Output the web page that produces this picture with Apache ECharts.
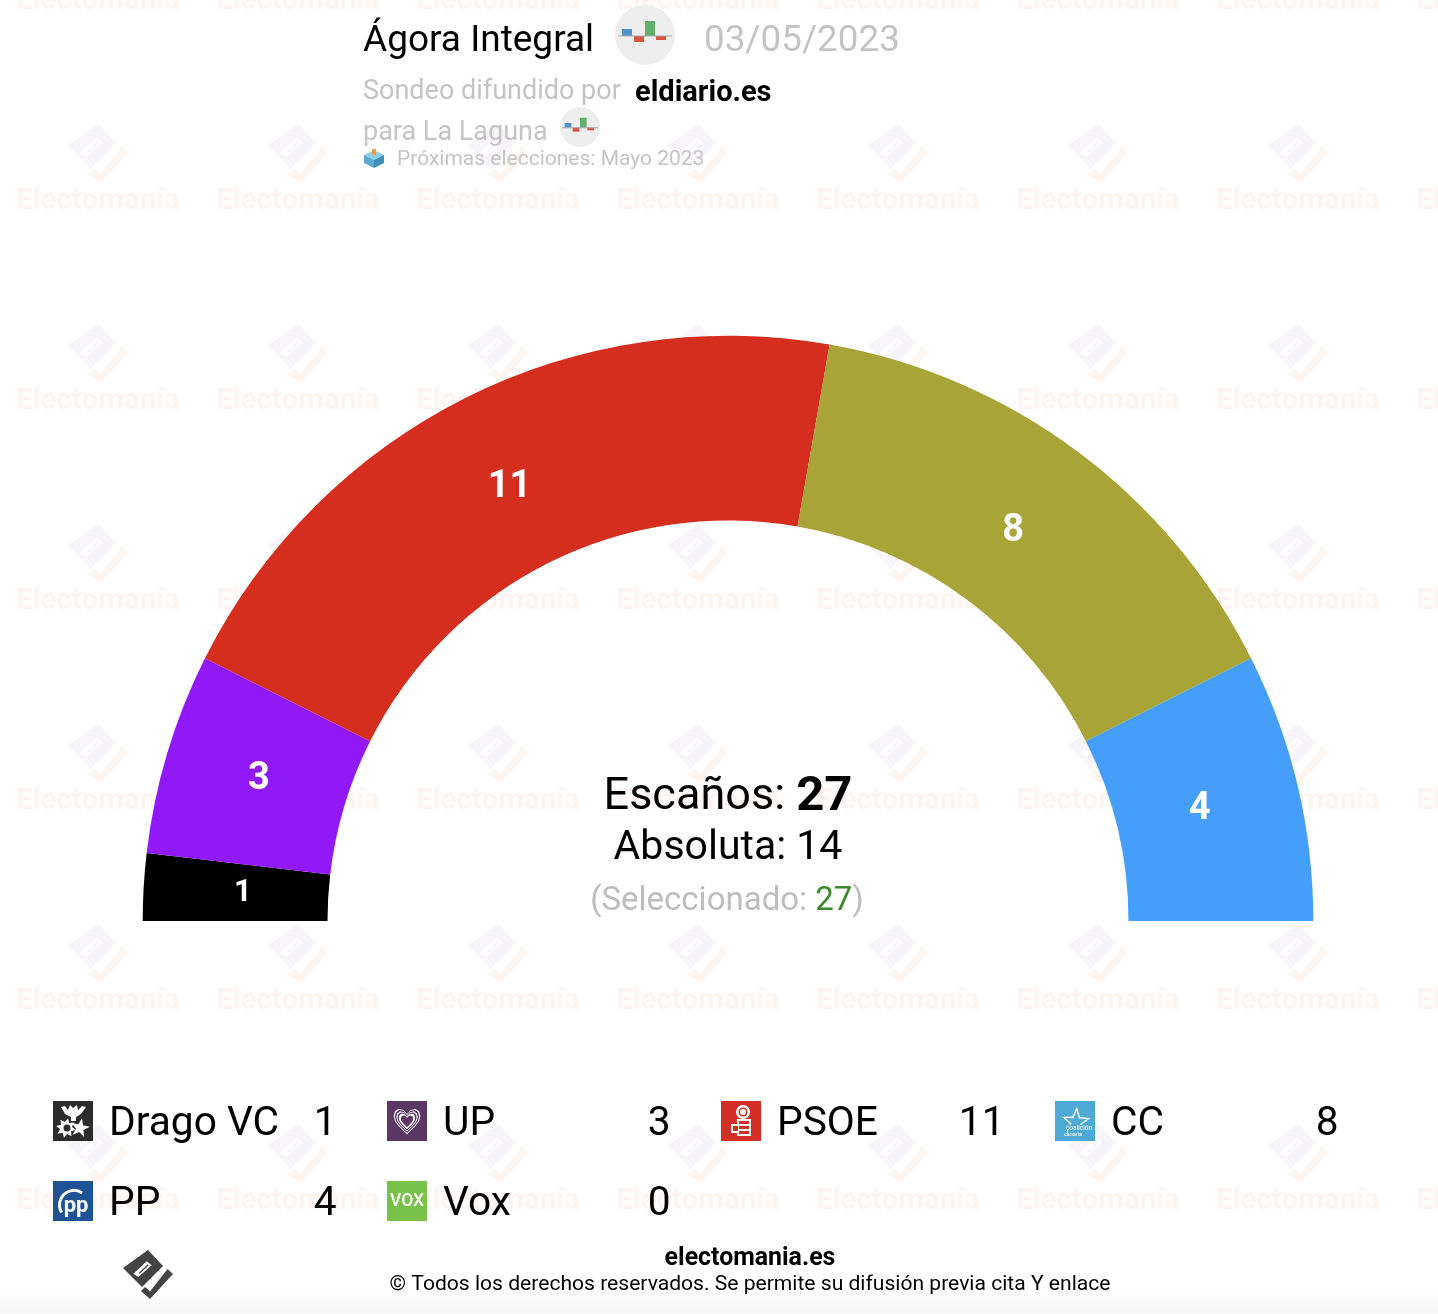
<!DOCTYPE html>
<html>
<head>
<meta charset="utf-8">
<style>html,body{margin:0;padding:0;background:#fff}#c{width:1438px;height:1314px}</style>
<script src="https://cdn.jsdelivr.net/npm/echarts@6/dist/echarts.min.js"></script>
</head>
<body>
<div id="c"></div>
<script>
const parties = ['Drago VC', 'UP', 'PSOE', 'CC', 'PP', 'Vox'];
const seats = [1, 3, 11, 8, 4, 0];
const arcColors = ['#000000', '#9119f7', '#d52e1f', '#a8a438', '#459ef9', '#7ac24a'];
const iconColors = ['#2c2c2c', '#5b3766', '#d42f26', '#4fa9d5', '#1f5396', '#78c24b'];
const pollster = 'Ágora Integral';
const pollDate = '03/05/2023';
const absoluteMajority = 14;
const selectedSeats = 27;

const F = 'Roboto, sans-serif';
const total = seats.reduce((a, b) => a + b, 0);
const chart = echarts.init(document.getElementById('c'), null, {renderer: 'canvas'});
const g = [];

const txt = (x, y, text, size, fill, extra) => g.push({
  type: 'text', x, y: y + 3, z: 20, silent: true,
  style: Object.assign({text, fill, font: `400 ${size}px ${F}`, textAlign: 'left', textVerticalAlign: 'middle'}, extra || {})
});
const poly = (pts, fill, z) => g.push({type: 'polygon', z: z || 20, silent: true, shape: {points: pts}, style: {fill}});
const rect = (x, y, w, h, fill, z) => g.push({type: 'rect', z: z || 20, silent: true, shape: {x, y, width: w, height: h}, style: {fill}});
const circle = (cx, cy, r, fill, z) => g.push({type: 'circle', z: z || 21, silent: true, shape: {cx, cy, r}, style: {fill}});

// brand mark: coordinates relative to its centre
const LOGO_BODY = [[0,-25],[15,-9],[-6,12],[-25,-7]];
const LOGO_SLOT = [[-14.7,-1.3],[-9.7,2],[3.7,-9.7],[-1.3,-13.7]];
const LOGO_LINE = [[-9,-2.3],[-8.3,-1.3],[0.7,-9.7],[-0.3,-10.7]];
const LOGO_CHECK = [[19.5,-6],[25,-1],[2,24],[-7,16],[-3,12],[2,16.5]];
function logo(cx, cy, s, c1, c2, slot, z) {
  const m = p => p.map(([x, y]) => [cx + x * s, cy + y * s]);
  poly(m(LOGO_BODY), c1, z);
  poly(m(LOGO_SLOT), slot, z);
  poly(m(LOGO_LINE), c1, z);
  poly(m(LOGO_CHECK), c2, z);
}

// watermark tiles
for (let col = 0; col < 8; col++) {
  for (let row = -1; row < 6; row++) {
    const cx = 98 + col * 200, y = 199 + row * 200;
    logo(cx, y - 45, 1.22, '#f7f4fa', '#fdf5f0', '#ffffff', 1);
    g.push({
      type: 'text', x: cx, y: y + 3, z: 1, silent: true,
      style: {text: '{a|Elect}{b|oma}{c|nía}', textAlign: 'center', textVerticalAlign: 'middle',
        rich: {
          a: {font: `700 29.4px ${F}`, fill: '#fcf3f3'},
          b: {font: `700 29.4px ${F}`, fill: '#fdf4f1'},
          c: {font: `700 29.4px ${F}`, fill: '#fef6ee'}
        }}
    });
  }
}

// bottom fade
g.push({type: 'rect', z: 2, silent: true, shape: {x: 0, y: 1284, width: 1438, height: 30},
  style: {fill: new echarts.graphic.LinearGradient(0, 0, 0, 1, [{offset: 0, color: 'rgba(246,246,246,0)'}, {offset: 1, color: '#f6f6f6'}])}});

// header
function barsBadge(cx, cy, r) {
  const u = r / 30;
  g.push({type: 'circle', z: 20, silent: true, shape: {cx, cy, r}, style: {fill: '#efeeee'}});
  rect(cx - 23 * u, cy - 6 * u, 10 * u, 7 * u, '#4f93d1');
  rect(cx - 11 * u, cy + 1 * u, 10 * u, 6 * u, '#dd5340');
  rect(cx + 0 * u, cy - 14 * u, 10 * u, 15 * u, '#62b06c');
  rect(cx + 11 * u, cy + 1 * u, 10 * u, 4 * u, '#dd5340');
  rect(cx - 27 * u, cy + 0.5 * u, 54 * u, 1, '#a9a9a9');
}
txt(363, 39, pollster, 37, '#000');
barsBadge(645, 35, 30);
txt(704, 39, pollDate, 36.8, '#c4c4c4');
txt(363, 89, 'Sondeo difundido por', 27, '#c4c4c4');
txt(635, 91, 'eldiario.es', 29, '#000', {font: `700 29px ${F}`});
txt(363, 130, 'para La Laguna', 27, '#c4c4c4');
barsBadge(580, 127, 20);
poly([[374,150],[384,155],[374,160],[364,155]], '#8fd0ea');
poly([[364,155],[374,160],[374,168],[364,163]], '#58a8cf');
poly([[384,155],[374,160],[374,168],[384,163]], '#3f8fbb');
rect(372, 149, 4, 6, '#ee9a45');
txt(397, 157, 'Próximas elecciones: Mayo 2023', 21, '#c4c4c4');

// centre block
g.push({type: 'text', x: 728, y: 798, z: 20, silent: true, style: {
  text: `{a|Escaños: }{b|${total}}`, textAlign: 'center', textVerticalAlign: 'middle',
  rich: {a: {font: `400 45px ${F}`, fill: '#000'}, b: {font: `700 49px ${F}`, fill: '#000'}}
}});
txt(728, 846, `Absoluta: ${absoluteMajority}`, 41, '#000', {textAlign: 'center'});
g.push({type: 'text', x: 727, y: 902, z: 20, silent: true, style: {
  text: `{a|(Seleccionado: }{b|${selectedSeats}}{a|)}`, textAlign: 'center', textVerticalAlign: 'middle',
  rich: {a: {font: `400 33px ${F}`, fill: '#bdbdbd'}, b: {font: `400 33px ${F}`, fill: '#3d8a2d'}}
}});

// legend
const HEART = [[0,-6],[3,-9],[7,-10],[10,-8],[11,-4],[10,0],[7,4],[3,8],[0,11],[-3,8],[-7,4],[-10,0],[-11,-4],[-10,-8],[-7,-10],[-3,-9]];
const heart = (cx, cy, s, fill) => poly(HEART.map(([a, b]) => [cx + a * s, cy + b * s]), fill, 21);
const star = (cx, cy, n, R, r, rot) => {
  const p = [];
  for (let i = 0; i < n * 2; i++) {
    const a = rot + i * Math.PI / n, q = i % 2 ? r : R;
    p.push([cx + q * Math.sin(a), cy - q * Math.cos(a)]);
  }
  return p;
};
const small = (x, y, text, size, weight, align) => g.push({type: 'text', x, y, z: 23, silent: true,
  style: {text, fill: '#fff', font: `${weight} ${size}px ${F}`, textAlign: align || 'center', textVerticalAlign: 'middle'}});
const glyphs = [
  (x, y) => { // Drago
    poly([[8,6],[12,5],[15,9],[17,4],[20,7],[24,4],[25,9],[29,5],[33,6],[28,13],[23,16],[18,16],[12,13]].map(([a, b]) => [x + a, y + b]), '#fff', 21);
    rect(x + 18, y + 14, 5, 6, '#fff', 21);
    poly(star(x + 13, y + 27, 8, 10, 6, 0.2), '#fff', 21);
    circle(x + 14, y + 27, 3.5, '#2c2c2c');
    poly(star(x + 27, y + 27, 5, 10, 4, 0.2), '#fff', 22);
  },
  (x, y) => { // UP
    heart(x + 20, y + 20, 1.22, '#e8dfea');
    heart(x + 20, y + 20, 1.1, '#5b3766');
    heart(x + 20, y + 20, 0.98, '#e8dfea');
    heart(x + 20, y + 20, 0.86, '#5b3766');
    heart(x + 20, y + 20, 0.74, '#ffffff');
    heart(x + 20, y + 20, 0.56, '#5b3766');
  },
  (x, y) => { // PSOE
    circle(x + 22, y + 11, 7, '#fff');
    circle(x + 22, y + 11, 4.5, '#d42f26');
    circle(x + 22, y + 11, 3, '#fff');
    rect(x + 16, y + 18, 14, 17, '#fff', 21);
    rect(x + 10, y + 23, 8, 9, '#fff', 21);
    rect(x + 18, y + 20, 10, 3, '#d42f26', 22);
    rect(x + 18, y + 25, 10, 3, '#d42f26', 22);
    rect(x + 18, y + 30, 10, 3, '#d42f26', 22);
    rect(x + 12, y + 25, 5, 5, '#d42f26', 22);
  },
  (x, y) => { // CC
    poly(star(x + 21, y + 21, 5, 15, 6.5, 0.05), '#fff', 21);
    poly(star(x + 21, y + 21, 5, 11.5, 4.6, 0.05), '#4fa9d5', 21);
    rect(x + 13, y + 24, 23, 13, '#4fa9d5', 22);
    small(x + 24, y + 27.5, 'coalición', 6.5, 400);
    small(x + 18, y + 33.5, 'canaria', 5.5, 400);
  },
  (x, y) => { // PP
    small(x + 23, y + 25, 'pp', 22, 700);
    g.push({type: 'arc', z: 21, silent: true, shape: {cx: x + 21, cy: y + 24, r: 14.5, startAngle: 2.6, endAngle: 5.3},
      style: {stroke: '#fff', lineWidth: 3, fill: 'none'}});
  },
  (x, y) => { // Vox
    small(x + 20, y + 21, 'VOX', 17.5, 500);
  }
];
const COLS = [53, 387, 721, 1055], ROWS = [1101, 1181];
parties.forEach((name, i) => {
  const x = COLS[i % 4], y = ROWS[Math.floor(i / 4)];
  rect(x, y, 40, 40, iconColors[i]);
  glyphs[i](x, y);
  txt(x + 56, y + 21, name, 40.7, '#000');
  txt(x + 283.5, y + 21, String(seats[i]), 40.7, '#000', {textAlign: 'right'});
});

// footer
logo(148, 1275, 1, '#444444', '#444444', '#ffffff', 20);
txt(750, 1256, 'electomania.es', 24.9, '#000', {textAlign: 'center', font: `700 24.9px ${F}`});
txt(750, 1282, '© Todos los derechos reservados. Se permite su difusión previa cita Y enlace', 21.08, '#000', {textAlign: 'center'});

const labelNudge = [[10, 1], [6, 1], [4, 10], [-11, 8], [-11, 3], [0, 0]];
const pieData = parties.map((name, i) => ({
  name, value: seats[i],
  itemStyle: {color: arcColors[i]},
  label: {fontSize: seats[i] === 1 ? 31 : 38, offset: labelNudge[i]}
})).filter(d => d.value > 0);
pieData.push({name: 'hidden', value: total, itemStyle: {color: 'transparent'}, label: {show: false}, labelLine: {show: false}, silent: true});

chart.setOption({
  animation: false,
  backgroundColor: '#ffffff',
  graphic: {elements: g},
  series: [{
    type: 'pie',
    z: 5,
    center: [728, 921],
    radius: [400.5, 585.3],
    startAngle: 180,
    avoidLabelOverlap: false,
    silent: true,
    emphasis: {disabled: true},
    label: {show: true, position: 'inside', formatter: '{c}', color: '#fff', fontFamily: 'Roboto', fontWeight: 700},
    labelLine: {show: false},
    data: pieData
  }]
});
</script>
</body>
</html>
